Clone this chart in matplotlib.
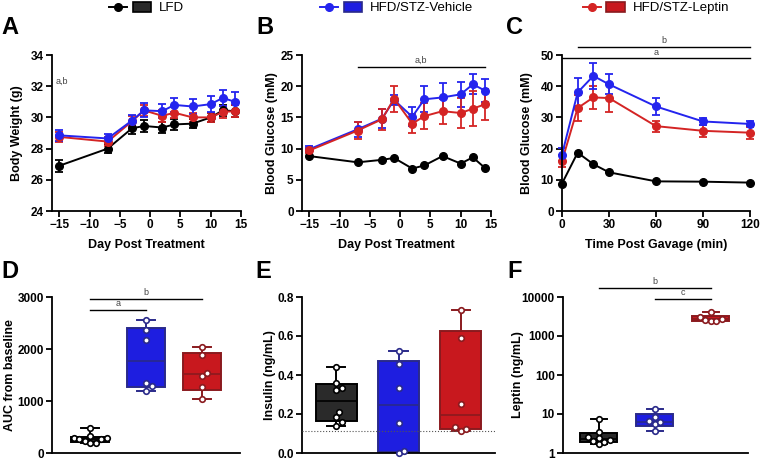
import numpy as np
import matplotlib
matplotlib.use('Agg')
import matplotlib.pyplot as plt
from matplotlib.lines import Line2D
from matplotlib.patches import Patch
from matplotlib.legend_handler import HandlerTuple
from matplotlib.ticker import FixedLocator, NullLocator

plt.rcParams['font.family'] = ['Liberation Sans', 'DejaVu Sans']

# ---- data ----
groups = ['LFD', 'HFD/STZ-Vehicle', 'HFD/STZ-Leptin']

days = [-15, -7, -3, -1, 2, 4, 7, 10, 12, 14]
bw_lfd = [26.9, 28.0, 29.3, 29.45, 29.35, 29.55, 29.6, 30.0, 30.45, 30.4]
bw_lfd_err = [0.4, 0.3, 0.35, 0.4, 0.35, 0.35, 0.3, 0.3, 0.35, 0.4]
bw_veh = [28.85, 28.65, 29.8, 30.45, 30.4, 30.8, 30.7, 30.85, 31.25, 31.0]
bw_veh_err = [0.35, 0.3, 0.35, 0.45, 0.45, 0.45, 0.5, 0.5, 0.5, 0.6]
bw_lep = [28.75, 28.45, 29.75, 30.45, 30.1, 30.3, 30.0, 30.0, 30.35, 30.4]
bw_lep_err = [0.3, 0.3, 0.35, 0.35, 0.4, 0.35, 0.3, 0.3, 0.4, 0.4]

bg_lfd = [8.8, 7.8, 8.2, 8.5, 6.8, 7.3, 8.8, 7.6, 8.6, 6.9]
bg_veh = [9.9, 13.1, 14.8, 17.8, 15.1, 17.9, 18.2, 18.7, 20.3, 19.3]
bg_veh_err = [0.5, 1.2, 1.5, 0.8, 1.5, 2.1, 2.3, 2.0, 1.6, 1.9]
bg_lep = [9.7, 12.9, 14.7, 18.0, 14.0, 15.2, 16.0, 15.7, 16.4, 17.1]
bg_lep_err = [0.4, 1.3, 1.7, 2.1, 1.5, 2.1, 2.0, 2.4, 2.8, 2.5]

gav_min = [0, 10, 20, 30, 60, 90, 120]
gt_lfd = [8.8, 18.7, 15.0, 12.4, 9.5, 9.4, 9.1]
gt_veh = [18.1, 38.0, 43.3, 40.6, 33.5, 28.7, 27.9]
gt_veh_err = [2.0, 4.5, 4.2, 3.2, 2.7, 1.0, 0.8]
gt_lep = [16.0, 33.0, 36.4, 36.2, 27.2, 25.7, 25.1]
gt_lep_err = [1.8, 4.3, 3.6, 4.6, 1.8, 1.9, 1.9]

auc = [[480, 320, 290, 280, 275, 270, 240, 200, 190],
       [1200, 1290, 1350, 2170, 2360, 2550],
       [1040, 1260, 1490, 1530, 1890, 2030]]
insulin = [[0.14, 0.16, 0.185, 0.21, 0.325, 0.335, 0.36, 0.44],
           [0.0, 0.01, 0.155, 0.335, 0.455, 0.525],
           [0.115, 0.125, 0.135, 0.25, 0.59, 0.735]]
leptin = [[1.7, 1.95, 2.0, 2.2, 2.4, 2.6, 3.4, 7.5],
          [3.6, 5.5, 6.2, 6.6, 8.5, 13.5],
          [2400, 2450, 2600, 2800, 3100, 4100]]
insulin_lod = 0.115

line_cols = ['black', '#2424ee', '#d42424']
face_cols = ['#2a2a2a', '#1e1ee0', '#c8181e']
edge_cols = ['black', '#2a2a8a', '#8a1a1e']

W, H = 761, 459
fig = plt.figure(figsize=(W / 100, H / 100), dpi=100)
TICK = 8.5
LAB = 9


def add_ax(l, r, t, b):
    ax = fig.add_axes([l / W, 1 - b / H, (r - l) / W, (b - t) / H])
    for s in ['top', 'right']:
        ax.spines[s].set_visible(False)
    for s in ['left', 'bottom']:
        ax.spines[s].set_linewidth(1.3)
    ax.tick_params(width=1.3, length=4, labelsize=TICK, pad=2)
    return ax


def bold_ticks(ax):
    for lab in ax.get_xticklabels() + ax.get_yticklabels():
        lab.set_fontweight('bold')


def sig(ax, x0, x1, y, ytxt, txt):
    ax.plot([x0, x1], [y, y], color='black', lw=1.0, clip_on=False)
    ax.text((x0 + x1) / 2, ytxt, txt, ha='center', va='bottom', fontsize=6.5,
            color='#444444', clip_on=False)


def lines(ax, x, series):
    # series: list of (group index, values, errors); drawn in that order
    for i, y, e in series:
        ax.errorbar(x, y, yerr=e, fmt='-o', color=line_cols[i], ms=5.5, lw=1.4,
                    elinewidth=1.3, capsize=3, capthick=1.3, clip_on=False)


axA = add_ax(52, 241, 55, 211)
lines(axA, days, [(0, bw_lfd, bw_lfd_err), (2, bw_lep, bw_lep_err), (1, bw_veh, bw_veh_err)])
axA.set_xlim(-16.2, 15)
axA.set_ylim(24, 34)
axA.set_xticks(range(-15, 16, 5))
axA.set_yticks(range(24, 35, 2))
axA.set_ylabel('Body Weight (g)', fontsize=LAB, fontweight='bold')
axA.set_xlabel('Day Post Treatment', fontsize=LAB, fontweight='bold')
axA.text(-14.5, 32.0, 'a,b', ha='center', va='bottom', fontsize=6.5, color='#444444')

axB = add_ax(302, 491, 55, 211)
lines(axB, days, [(0, bg_lfd, None), (1, bg_veh, bg_veh_err), (2, bg_lep, bg_lep_err)])
axB.set_xlim(-16.2, 15)
axB.set_ylim(0, 25)
axB.set_xticks(range(-15, 16, 5))
axB.set_yticks(range(0, 26, 5))
axB.set_ylabel('Blood Glucose (mM)', fontsize=LAB, fontweight='bold')
axB.set_xlabel('Day Post Treatment', fontsize=LAB, fontweight='bold')
sig(axB, -7, 14, 23.0, 23.4, 'a,b')

axC = add_ax(562, 750, 55, 211)
lines(axC, gav_min, [(0, gt_lfd, None), (2, gt_lep, gt_lep_err), (1, gt_veh, gt_veh_err)])
axC.set_xlim(0, 120)
axC.set_ylim(0, 50)
axC.set_xticks(range(0, 121, 30))
axC.set_yticks(range(0, 51, 10))
axC.set_ylabel('Blood Glucose (mM)', fontsize=LAB, fontweight='bold')
axC.set_xlabel('Time Post Gavage (min)', fontsize=LAB, fontweight='bold')
sig(axC, 0, 120, 48.9, 49.4, 'a')
sig(axC, 10, 120, 52.7, 53.2, 'b')


def stats(vals):
    v = np.asarray(vals, float)
    q1, med, q3 = np.percentile(v, [25, 50, 75], method='weibull')
    return dict(med=med, q1=q1, q3=q3, whislo=v.min(), whishi=v.max(), fliers=[])


def swarm(ax, xc, vals, d):
    pts = ax.transData.transform([(xc, v) for v in vals])
    inv = ax.transData.inverted()
    placed = []
    out = np.zeros(len(vals))
    cands = [0.0]
    for k in range(1, 30):
        cands += [k * d * 0.5, -k * d * 0.5]
    for i in np.argsort(vals):
        px, py = pts[i]
        for off in cands:
            if all((px + off - qx) ** 2 + (py - qy) ** 2 >= d * d for qx, qy in placed):
                break
        placed.append((px + off, py))
        out[i] = inv.transform((px + off, py))[0]
    return out


def boxes(ax, data, width):
    for i, vals in enumerate(data):
        ax.bxp([stats(vals)], positions=[i], widths=width, patch_artist=True,
               showfliers=False, capwidths=width * 0.45,
               boxprops=dict(facecolor=face_cols[i], edgecolor=edge_cols[i], lw=1.4),
               medianprops=dict(color=edge_cols[i], lw=1.2),
               whiskerprops=dict(color=edge_cols[i], lw=1.4),
               capprops=dict(color=edge_cols[i], lw=1.4), manage_ticks=False)
        xs = swarm(ax, i, vals, 5.5)
        ax.scatter(xs, vals, s=16, facecolor='white', edgecolor=edge_cols[i],
                   linewidth=1.2, zorder=5, clip_on=False)
    ax.set_xticks([])


axD = add_ax(52, 240, 297, 453)
axD.set_xlim(-0.68, 2.68)
axD.set_ylim(0, 3000)
axD.set_yticks([0, 1000, 2000, 3000])
boxes(axD, auc, 0.68)
axD.set_ylabel('AUC from baseline', fontsize=LAB, fontweight='bold')
sig(axD, 0, 1, 2744, 2790, 'a')
sig(axD, 0, 2, 2955, 3000, 'b')

axE = add_ax(302, 495, 297, 453)
axE.set_xlim(-0.55, 2.55)
axE.set_ylim(0, 0.8)
axE.set_yticks([0, 0.2, 0.4, 0.6, 0.8])
axE.set_yticklabels(['0.0', '0.2', '0.4', '0.6', '0.8'])
axE.axhline(insulin_lod, ls=':', color='#555555', lw=0.8, zorder=4)
boxes(axE, insulin, 0.66)
axE.set_ylabel('Insulin (ng/mL)', fontsize=LAB, fontweight='bold')

axF = add_ax(563, 748, 297, 453)
axF.set_yscale('log')
axF.set_xlim(-0.64, 2.66)
axF.set_ylim(1, 10000)
axF.yaxis.set_major_locator(FixedLocator([1, 10, 100, 1000, 10000]))
axF.yaxis.set_minor_locator(NullLocator())
axF.set_yticklabels(['1', '10', '100', '1000', '10000'])
boxes(axF, leptin, 0.66)
axF.set_ylabel('Leptin (ng/mL)', fontsize=LAB, fontweight='bold')
sig(axF, 0, 2, 17000, 19500, 'b')
sig(axF, 1, 2, 8700, 10000, 'c')

for ax, lx in [(axA, -0.155), (axB, -0.128), (axC, -0.156),
               (axD, -0.19), (axE, -0.137), (axF, -0.21)]:
    ax.yaxis.set_label_coords(lx, 0.5)
    bold_ticks(ax)
for ax in [axA, axB, axC]:
    ax.xaxis.set_label_coords(0.5, -0.18)

# legend: one entry centred over each top panel
for ax, i in [(axA, 0), (axB, 1), (axC, 2)]:
    h = (Line2D([], [], color=line_cols[i], marker='o', ms=5.5, lw=1.4),
         Patch(facecolor=face_cols[i], edgecolor=edge_cols[i], lw=1.2))
    ax.legend([h], [groups[i]], handler_map={tuple: HandlerTuple(ndivide=None, pad=0.4)},
              handlelength=3.2, handleheight=0.75, fontsize=9.5, frameon=False,
              loc='center', bbox_to_anchor=(0.5, 1.30), handletextpad=0.6,
              borderaxespad=0)

for txt, x, y in [('A', 1, 28), ('B', 256, 28), ('C', 506, 28),
                  ('D', 1, 271), ('E', 255, 271), ('F', 507, 271)]:
    fig.text(x / W, 1 - y / H, txt, fontsize=17, fontweight='bold', va='center', ha='left')

fig.savefig('out.png', dpi=100)
